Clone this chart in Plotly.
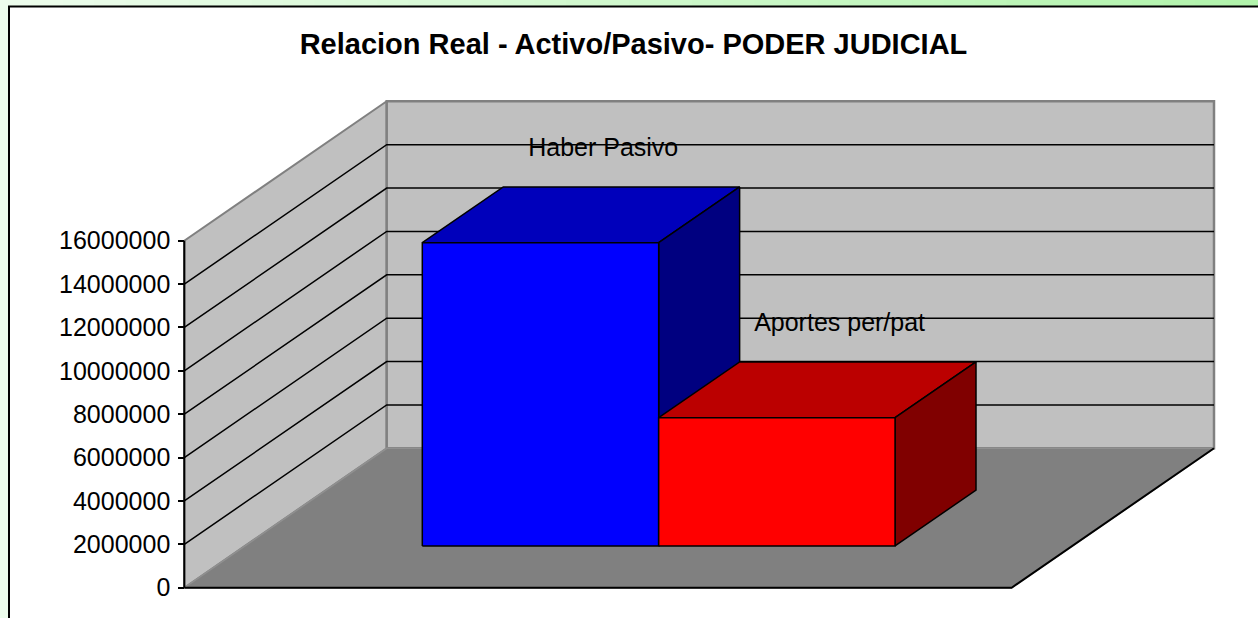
import plotly.graph_objects as go

# ---------------- data ----------------
title_text = "Relacion Real - Activo/Pasivo- PODER JUDICIAL"
series_names = ["Haber Pasivo", "Aportes per/pat"]
series_values = [13_980_000, 5_910_000]
tick_values = [0, 2000000, 4000000, 6000000, 8000000, 10000000, 12000000, 14000000, 16000000]
tick_labels = [str(v) for v in tick_values]

# ---------------- style ----------------
front_colors = ["#0000FF", "#FF0000"]
top_colors = ["#0000BB", "#BB0000"]
side_colors = ["#000080", "#800000"]
wall_color = "#C0C0C0"
floor_color = "#808080"
FONT = "Arial, 'Liberation Sans', sans-serif"

# ---------------- geometry (oblique 3D projection calibration) ----------------
W, H = 1258, 618
AX_PX, BASE_PX, TOP_PX = 184.3, 587.7, 240.7
FRONT_W_PX, DEPTH_DX_PX, DEPTH_DY_PX = 827.3, 202.4, 139.4
axis_max = tick_values[-1]
vpp = axis_max / (BASE_PX - TOP_PX)       # value units per pixel
xpp = 1.0 / FRONT_W_PX                    # x units per pixel
DX = DEPTH_DX_PX * xpp
DV = DEPTH_DY_PX * vpp
gap_width = 1.5
n = len(series_values)
bar_w = 1.0 / (n + gap_width)
bar_x0 = gap_width / 2 * bar_w
bar_d = 1.0 / (1 + gap_width)
bar_z0 = gap_width / 2 * bar_d
label_z = 0.61
label_lift = 50 * vpp


def P(x, z, v):
    return x + z * DX, v + z * DV


def poly(points):
    xs, ys = zip(*[P(*p) for p in points])
    return list(xs) + [xs[0]], list(ys) + [ys[0]]


fig = go.Figure()


def add_poly(points, fill, line_color, line_width):
    xs, ys = poly(points)
    fig.add_trace(go.Scatter(x=xs, y=ys, mode="lines", fill="toself", fillcolor=fill,
                             line=dict(color=line_color, width=line_width),
                             hoverinfo="skip", showlegend=False))


def add_path(points, color, width):
    xs, ys = [], []
    for p in points:
        if p is None:
            xs.append(None); ys.append(None)
        else:
            a, b = P(*p)
            xs.append(a); ys.append(b)
    fig.add_trace(go.Scatter(x=xs, y=ys, mode="lines", line=dict(color=color, width=width),
                             hoverinfo="skip", showlegend=False))


M = axis_max
# walls and floor
add_poly([(0, 0, 0), (0, 0, M), (0, 1, M), (0, 1, 0)], wall_color, "#808080", 2)
add_poly([(0, 1, 0), (0, 1, M), (1, 1, M), (1, 1, 0)], wall_color, "#808080", 2.5)
add_poly([(0, 0, 0), (1, 0, 0), (1, 1, 0), (0, 1, 0)], floor_color, "#909090", 1.5)
add_path([(0, 0, 0), (1, 0, 0), (1, 1, 0)], "#000000", 2)

# gridlines on side wall and back wall
grid = []
for v in tick_values[1:-1]:
    grid += [(0, 0, v), (0, 1, v), (1, 1, v), None]
add_path(grid, "#000000", 1.5)

# axis line
add_path([(0, 0, 0), (0, 0, M)], "#000000", 2)

# bars
for i, (name, val) in enumerate(zip(series_names, series_values)):
    xl = bar_x0 + i * bar_w
    xr = xl + bar_w
    za, zb = bar_z0, bar_z0 + bar_d
    add_poly([(xl, za, val), (xr, za, val), (xr, zb, val), (xl, zb, val)], top_colors[i], "#000000", 1.5)
    add_poly([(xr, za, 0), (xr, zb, 0), (xr, zb, val), (xr, za, val)], side_colors[i], "#000000", 1.5)
    add_poly([(xl, za, 0), (xr, za, 0), (xr, za, val), (xl, za, val)], front_colors[i], "#000000", 1.5)

# data labels (series names)
lx, ly = [], []
for i, val in enumerate(series_values):
    xc = bar_x0 + (i + 0.5) * bar_w
    a, b = P(xc, label_z, val + label_lift)
    lx.append(a); ly.append(b)
fig.add_trace(go.Scatter(x=lx, y=ly, mode="text", text=series_names, textposition="middle center",
                         textfont=dict(family=FONT, size=25, color="#000000"),
                         hoverinfo="skip", showlegend=False, cliponaxis=False))

# ---------------- background frame ----------------
shapes = []
steps = 40
c0, c1 = (236, 252, 236), (178, 244, 172)
for k in range(steps):
    t = k / (steps - 1)
    col = "rgb(%d,%d,%d)" % tuple(round(c0[j] + (c1[j] - c0[j]) * t) for j in range(3))
    shapes.append(dict(type="rect", xref="paper", yref="paper", x0=k / steps, x1=(k + 1) / steps + 0.002,
                       y0=1 - 8 / H, y1=1, fillcolor=col, line=dict(width=0), layer="below"))
shapes.append(dict(type="rect", xref="paper", yref="paper", x0=9 / W, x1=1.05, y0=-0.05, y1=1 - 6.5 / H,
                   fillcolor="#FFFFFF", line=dict(color="#000000", width=2), layer="below"))

fig.update_layout(
    width=W, height=H,
    margin=dict(l=0, r=0, t=0, b=0),
    paper_bgcolor="#ECFCEC",
    plot_bgcolor="rgba(0,0,0,0)",
    showlegend=False,
    hovermode=False,
    shapes=shapes,
    title=dict(text="<b>" + title_text + "</b>", x=633.5 / W, xanchor="center",
               y=1 - 44 / H, yanchor="middle",
               font=dict(family=FONT, size=29, color="#000000")),
    xaxis=dict(range=[-AX_PX * xpp, (W - AX_PX) * xpp], visible=False, fixedrange=True),
    yaxis=dict(range=[-(H - BASE_PX) * vpp, BASE_PX * vpp], anchor="free", position=AX_PX / W,
               tickmode="array", tickvals=tick_values, ticktext=tick_labels,
               ticks="outside", ticklen=6, tickwidth=1.5, tickcolor="#000000",
               showgrid=False, zeroline=False, showline=False, fixedrange=True,
               tickfont=dict(family=FONT, size=25, color="#000000"), ticklabelstandoff=3),
)

fig.write_html("out.html", config={"displayModeBar": False},
               post_script="document.body.style.margin='0';document.body.style.overflow='hidden';")
